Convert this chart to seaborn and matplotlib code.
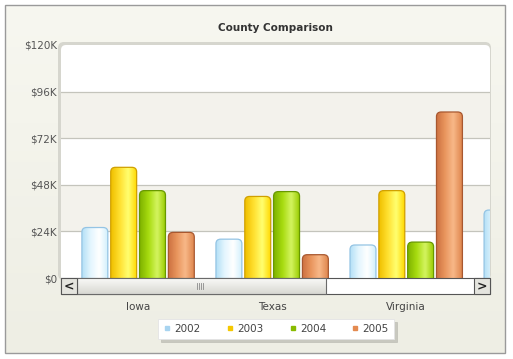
import numpy as np
import pandas as pd
import seaborn as sns
import matplotlib.pyplot as plt
from matplotlib.patches import Rectangle, FancyBboxPatch
from matplotlib.colors import LinearSegmentedColormap
from matplotlib.lines import Line2D

# Data (values in dollars)
# The fourth county is cut off by the scroll window, its name is not visible
counties = ['Iowa', 'Texas', 'Virginia', ' ']
years = ['2002', '2003', '2004', '2005']
sales_2002 = [26000, 20000, 17000, 35000]
sales_2003 = [57000, 42000, 45000, np.nan]
sales_2004 = [45000, 44500, 18500, np.nan]
sales_2005 = [23500, 12000, 85500, np.nan]
y_ticks = [0, 24000, 48000, 72000, 96000, 120000]
y_tick_labels = ['$0', '$24K', '$48K', '$72K', '$96K', '$120K']

# Colours: gradient stops (left -> right), edge colour, legend swatch
gradients = {
    '2002': ['#b4e0f6', '#e4f6fe', '#ffffff', '#d2f0fc'],
    '2003': ['#f0c000', '#ffe030', '#ffff70', '#ffd800'],
    '2004': ['#80b400', '#a8dc10', '#d4f460', '#99cc00'],
    '2005': ['#cc7040', '#e8945c', '#f8b888', '#e08850'],
}
edges = {'2002': '#94c4e4', '2003': '#d0a000', '2004': '#689800', '2005': '#a85830'}
swatch = {'2002': '#a8d4f0', '2003': '#f5c800', '2004': '#88bb00', '2005': '#e48a50'}

df = pd.DataFrame({
    'county': counties * 4,
    'year': np.repeat(years, len(counties)),
    'sales': sales_2002 + sales_2003 + sales_2004 + sales_2005,
})

plt.rcParams['font.family'] = ['DejaVu Sans']
W, H = 513, 359
fig = plt.figure(figsize=(W / 100, H / 100), dpi=100)
fig.patch.set_facecolor('white')

# Background panel (pixel coordinates)
bg = fig.add_axes([0, 0, 1, 1], zorder=-10)
bg.set_xlim(0, W)
bg.set_ylim(H, 0)
bg.axis('off')
grad_v = np.linspace(0, 1, 100).reshape(-1, 1)
bg_cmap = LinearSegmentedColormap.from_list('bg', ['#f7f7f0', '#eeeee4'])
bg.imshow(grad_v, extent=[5, 505, 353, 5], aspect='auto', cmap=bg_cmap)
bg.add_patch(Rectangle((5, 5), 500, 348, fill=False, ec='#9a9a9a', lw=1))
bg.add_patch(FancyBboxPatch((58, 42), 433, 238, boxstyle='round,pad=0,rounding_size=6',
                            fc='#d6d6ce', ec='none'))
bg.add_patch(FancyBboxPatch((61, 45), 429, 236, boxstyle='round,pad=0,rounding_size=5',
                            fc='white', ec='none'))

# Plot area
ax = fig.add_axes([61 / W, 1 - 278 / H, 429 / W, 233 / H])
ax.patch.set_visible(False)

sns.barplot(data=df, x='county', y='sales', hue='year', order=counties, hue_order=years,
            palette=swatch, width=0.86, gap=0.1, saturation=1, errorbar=None,
            legend=False, ax=ax)

xlim = (-0.575, 2.625)
ylim = (0, 120000)
asp = ((ylim[1] - ylim[0]) / 233) / ((xlim[1] - xlim[0]) / 429)
grad_h = np.linspace(0, 1, 64).reshape(1, -1)
for yr, cont in zip(years, ax.containers):
    cmap = LinearSegmentedColormap.from_list(yr, gradients[yr])
    for bar in cont:
        bar.set_visible(False)
        h = bar.get_height()
        if not np.isfinite(h):
            continue
        x0, w = bar.get_x(), bar.get_width()
        shape = FancyBboxPatch((x0, -8000), w, h + 8000,
                               boxstyle='round,pad=0,rounding_size=0.035',
                               mutation_aspect=asp, fc='none', ec=edges[yr], lw=0.9, zorder=3)
        ax.add_patch(shape)
        im = ax.imshow(grad_h, extent=[x0, x0 + w, -8000, h], aspect='auto', cmap=cmap,
                       interpolation='bicubic', zorder=2)
        im.set_clip_path(shape)

for lo in [24000, 72000]:
    ax.axhspan(lo, lo + 24000, color='#f3f2ec', zorder=0, lw=0)
for yv in y_ticks[1:-1]:
    ax.axhline(yv, color='#c4c4bc', lw=0.9, zorder=1)

ax.set_xlim(*xlim)
ax.set_ylim(*ylim)
ax.set_yticks(y_ticks)
ax.set_yticklabels(y_tick_labels)
ax.set_xlabel('')
ax.set_ylabel('')
for s in ax.spines.values():
    s.set_visible(False)
ax.tick_params(axis='y', length=0, pad=3, labelsize=7.5, labelcolor='#555555')
ax.tick_params(axis='x', length=0, pad=17, labelsize=7.5, labelcolor='#444444')

# Scroll bar overlay (pixel coordinates)
ov = fig.add_axes([0, 0, 1, 1], zorder=5)
ov.set_xlim(0, W)
ov.set_ylim(H, 0)
ov.axis('off')
ov.patch.set_visible(False)
ov.add_patch(Rectangle((61, 278), 429, 16, fc='white', ec='#555555', lw=0.8))
thumb_cmap = LinearSegmentedColormap.from_list('thumb', ['#fafaf8', '#d8d8d2'])
ov.imshow(grad_v, extent=[77, 326, 294, 278], aspect='auto', cmap=thumb_cmap, zorder=2)
ov.add_patch(Rectangle((77, 278), 249, 16, fc='none', ec='#6a6a6a', lw=0.8, zorder=3))
for gx in [197, 199, 201, 203]:
    ov.plot([gx, gx], [283, 289], color='#8a8a8a', lw=0.6, zorder=4)
ov.add_patch(Rectangle((61, 278), 16, 16, fc='#e4e4de', ec='#555555', lw=0.8, zorder=3))
ov.add_patch(Rectangle((474, 278), 16, 16, fc='#e4e4de', ec='#555555', lw=0.8, zorder=3))
ov.text(69, 286.5, '<', ha='center', va='center', fontsize=9, fontweight='bold', color='#222222', zorder=4)
ov.text(482, 286.5, '>', ha='center', va='center', fontsize=9, fontweight='bold', color='#222222', zorder=4)
ov.set_xlim(0, W)
ov.set_ylim(H, 0)

fig.text(275.5 / W, 1 - 28 / H, 'County Comparison', ha='center', va='center',
         fontsize=7.5, fontweight='bold', color='#333333')

handles = [Line2D([], [], marker='s', ls='', ms=3.5, color=swatch[y]) for y in years]
leg = fig.legend(handles, years, ncol=4, loc='center', bbox_to_anchor=(276 / W, 1 - 329 / H),
                 fontsize=7.5, frameon=True, fancybox=False,
                 shadow={'color': '#b8b8b0', 'alpha': 0.7}, borderpad=0.5,
                 handletextpad=0.3, columnspacing=2.4, handlelength=0.8, labelcolor='#444444')
leg.get_frame().set_edgecolor('#e4e4e4')
leg.get_frame().set_linewidth(0.6)

fig.savefig('out.png', dpi=100)
